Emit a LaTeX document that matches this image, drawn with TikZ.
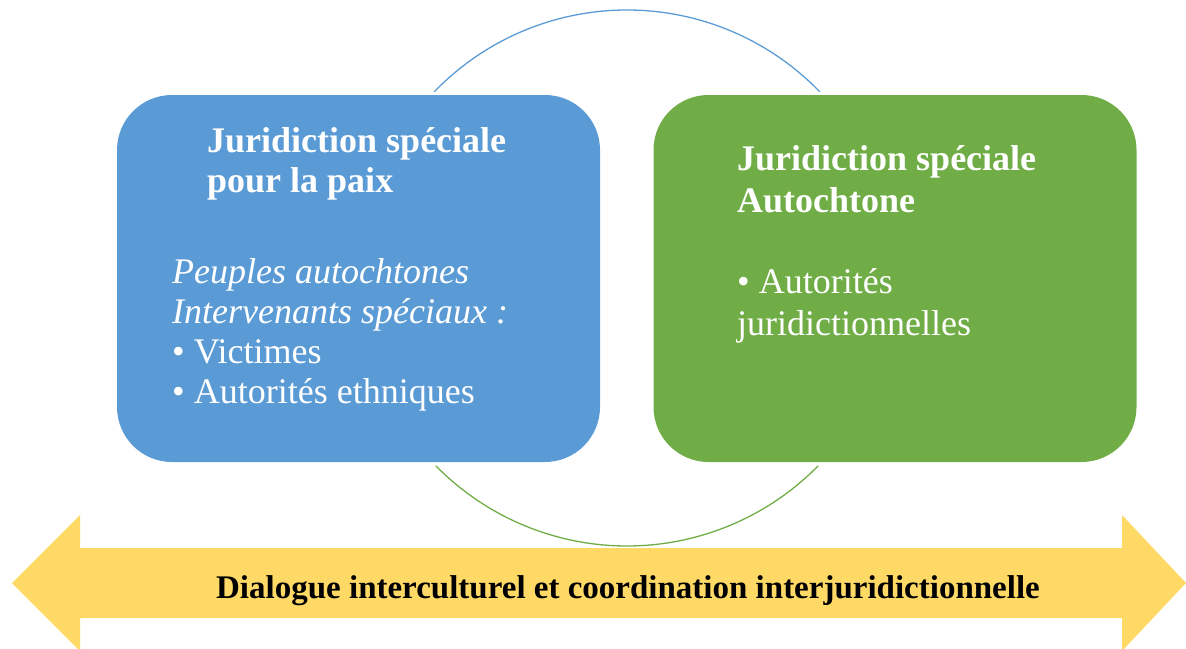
\documentclass[tikz,border=0pt]{standalone}
\usepackage{fontspec}
\setmainfont{Liberation Serif}
\definecolor{jepblue}{HTML}{5B9BD5}
\definecolor{jegreen}{HTML}{70AD47}
\definecolor{arrowyellow}{HTML}{FFD966}
\begin{document}
\begin{tikzpicture}[x=1pt,y=-1pt,
  panel/.style={rounded corners=55pt, minimum width=483pt, minimum height=367pt, inner sep=0pt},
  headtxt/.style={anchor=base west, inner sep=0pt, text=white, font=\bfseries\fontsize{36}{40}\selectfont},
  bodytxt/.style={anchor=base west, inner sep=0pt, text=white, font=\fontsize{36}{40}\selectfont},
  arctxt/.style={anchor=base, inner sep=0pt, text=black, font=\bfseries\fontsize{33}{36}\selectfont}]
\useasboundingbox (0,0) rectangle (1186,648);
% circle arcs
\coordinate (c) at (627,278);
\draw[jegreen, line width=1.3pt] (c) ++(44.5:268) arc[start angle=44.5, end angle=135.5, radius=268];
\draw[jepblue, line width=1.3pt] (c) ++(-44:268) arc[start angle=-44, end angle=-136, radius=268];
% panels
\node[panel, fill=jepblue] (jep) at (358.5,278.5) {};
\node[panel, fill=jegreen] (jea) at (895,278.5) {};
% blue panel text
\node[headtxt] (h1a) at (207,152) {Juridiction spéciale};
\node[headtxt] (h1b) at (207,192) {pour la paix};
\node[bodytxt, font=\itshape\fontsize{36}{40}\selectfont] (b1a) at (172,283) {Peuples autochtones};
\node[bodytxt, font=\itshape\fontsize{36}{40}\selectfont] (b1b) at (172,323) {Intervenants spéciaux :};
\node[bodytxt] (b1c) at (172,363) {• Victimes};
\node[bodytxt] (b1d) at (172,403) {• Autorités ethniques};
% green panel text
\node[headtxt] (h2a) at (737,170) {Juridiction spéciale};
\node[headtxt] (h2b) at (737,212) {Autochtone};
\node[bodytxt] (b2a) at (737,293) {• Autorités};
\node[bodytxt] (b2b) at (737,335) {juridictionnelles};
% double arrow
\fill[arrowyellow] (12,583) -- (80,515) -- (80,548) -- (1122,548) -- (1122,515) -- (1186,583)
  -- (1122,651) -- (1122,618) -- (80,618) -- (80,651) -- cycle;
\node[arctxt] (dlg) at (628,598) {Dialogue interculturel et coordination interjuridictionnelle};
\end{tikzpicture}
\end{document}
